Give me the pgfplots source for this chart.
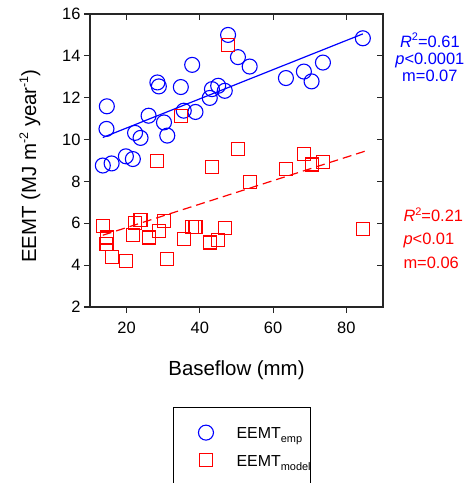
\documentclass[border=0pt]{standalone}
\usepackage{fontspec}
\setmainfont{Liberation Sans}
\usepackage{pgfplots}
\pgfplotsset{compat=1.18}
\definecolor{eblue}{RGB}{0,0,255}
\definecolor{ered}{RGB}{255,0,0}
\newcommand\lsub[1]{\raisebox{-4bp}{\fontsize{11}{12}\selectfont #1}}
\newcommand\ysup[1]{\raisebox{8bp}{\fontsize{12.5}{13}\selectfont #1}}
\newcommand\asup[1]{\raisebox{6.5bp}{\fontsize{11}{12}\selectfont #1}}
\pgfplotsset{dotimg/.style={legend image code/.code={\path (-32bp,0) (30bp,0); \draw[##1] plot coordinates {(0bp,4bp)};}}}

\begin{document}
\begin{tikzpicture}
% inner ticks on top and right
\begin{axis}[
  at={(0,0)}, anchor=south west,
  scale only axis, width=293bp, height=293bp,
  xmin=10, xmax=90, ymin=2, ymax=16,
  xtick={20,40,60,80}, ytick={2,4,...,16},
  xticklabels={}, yticklabels={},
  tick align=inside, xtick pos=top, ytick pos=right,
  major tick length=6bp,
  axis line style={line width=1.1bp, black!85},
  tick style={line width=1.1bp, black!85},
]
\end{axis}
\begin{axis}[
  at={(0,0)}, anchor=south west,
  scale only axis, width=293bp, height=293bp,
  xmin=10, xmax=90, ymin=2, ymax=16,
  xtick={20,40,60,80}, ytick={2,4,...,16},
  tick align=outside, xtick pos=bottom, ytick pos=left,
  major tick length=6bp,
  clip=false,
  axis line style={line width=1.1bp, black!85},
  tick style={line width=1.1bp, black!85},
  /pgf/number format/assume math mode=true,
  tick label style={font=\fontsize{16.5}{19}\selectfont},
  xticklabel style={yshift=-5bp},
  xlabel={Baseflow (mm)},
  ylabel={EEMT (MJ m\ysup{-2} year\ysup{-1})},
  label style={font=\fontsize{20.5}{24}\selectfont},
  xlabel style={at={(axis description cs:0.5,-0.215)}, anchor=center},
  ylabel style={at={(axis description cs:-0.205,0.481)}, anchor=center},
  legend cell align=left,
  legend style={at={(axis description cs:0.283,-0.341)}, anchor=north west,
    draw=black, line width=1bp, inner xsep=0pt, inner ysep=17.7bp,
    row sep=7bp, column sep=0pt,
    font=\fontsize{16}{18}\selectfont,
    nodes={inner sep=0pt, text height=12bp, text depth=8bp}},
]
\addplot[only marks, mark=o, mark size=7.5bp, eblue, line width=1.1bp, dotimg]
  coordinates {
  (47.7,15.00) (84.5,14.84) (50.4,13.94) (53.6,13.49) (37.9,13.57)
  (73.6,13.68) (68.4,13.25) (70.5,12.78) (63.5,12.94) (28.4,12.73)
  (28.8,12.54) (34.8,12.51) (45.0,12.57) (43.3,12.41) (46.8,12.33)
  (42.7,11.99) (14.6,11.59) (35.6,11.38) (38.8,11.32) (26.0,11.14)
  (30.2,10.82) (14.5,10.51) (22.3,10.32) (23.8,10.08) (31.1,10.19)
  (19.8,9.20) (21.7,9.07) (15.9,8.86) (13.5,8.76)
};
\addlegendentry{EEMT\lsub{emp}}
\addplot[only marks, mark=square, mark size=6.5bp, ered, line width=1.1bp, dotimg]
  coordinates {
  (47.7,14.52) (34.8,11.14) (50.4,9.56) (68.4,9.29) (73.6,8.94)
  (70.5,8.81) (28.4,8.97) (43.3,8.70) (63.5,8.60) (53.6,7.98)
  (13.5,5.87) (14.6,5.32) (14.5,5.00) (15.9,4.37) (19.8,4.21)
  (22.3,6.03) (23.8,6.16) (21.7,5.43) (26.0,5.32) (28.8,5.63)
  (30.2,6.11) (31.1,4.29) (35.6,5.27) (37.9,5.84) (38.8,5.84)
  (42.7,5.08) (45.0,5.21) (46.8,5.76) (84.5,5.71)
};
\addlegendentry{EEMT\lsub{model}}
\addplot[eblue, line width=1.2bp, forget plot] coordinates {(13.5,10.10) (84.5,15.05)};
\addplot[ered, line width=1.2bp, dash pattern=on 9bp off 5bp, forget plot] coordinates {(13.5,5.43) (85.0,9.44)};
\node[anchor=base, text=eblue, font=\fontsize{16.5}{18}\selectfont] at (axis description cs:1.160,0.887) {\textit{R}\asup{2}=0.61};
\node[anchor=base, text=eblue, font=\fontsize{16.5}{18}\selectfont] at (axis description cs:1.160,0.828) {\textit{p}<0.0001};
\node[anchor=base, text=eblue, font=\fontsize{16.5}{18}\selectfont] at (axis description cs:1.160,0.768) {m=0.07};
\node[anchor=base west, text=ered, font=\fontsize{16.5}{18}\selectfont] at (axis description cs:1.058,0.291) {\textit{R}\asup{2}=0.21};
\node[anchor=base west, text=ered, font=\fontsize{16.5}{18}\selectfont] at (axis description cs:1.058,0.212) {\textit{p}<0.01};
\node[anchor=base west, text=ered, font=\fontsize{16.5}{18}\selectfont] at (axis description cs:1.058,0.130) {m=0.06};
\end{axis}
\pgfresetboundingbox
\path[use as bounding box] (-90bp,-176bp) rectangle (380bp,307bp);
\end{tikzpicture}
\end{document}
